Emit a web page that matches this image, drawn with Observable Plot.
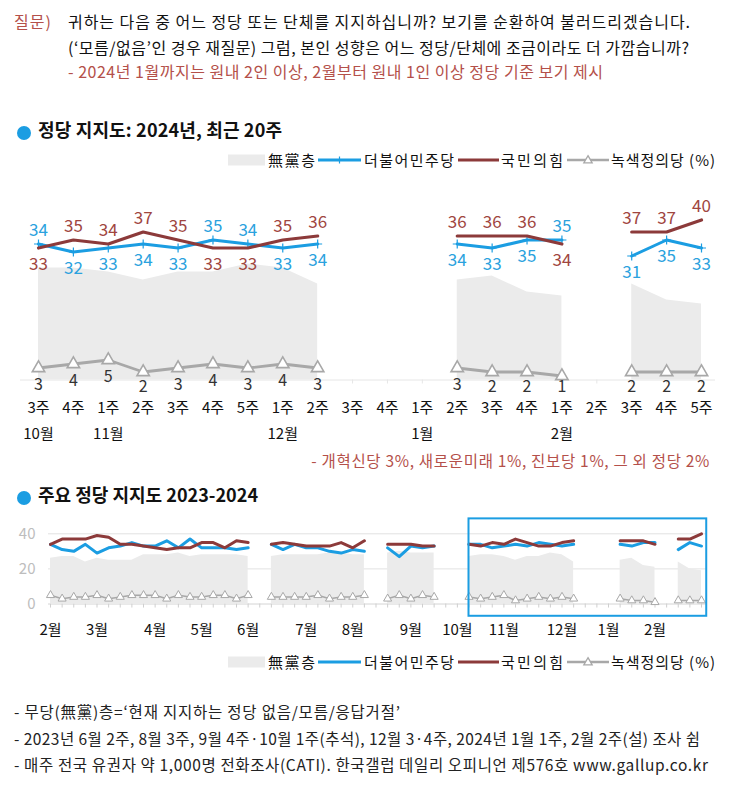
<!DOCTYPE html>
<html><head><meta charset="utf-8">
<script src="https://cdn.jsdelivr.net/npm/d3@7"></script>
<script src="https://cdn.jsdelivr.net/npm/@observablehq/plot@0.6"></script>
<style>
body{margin:0;background:#fff;font-family:"Noto Sans CJK KR","Noto Sans",sans-serif;}
#root{position:relative;width:730px;height:797px;overflow:hidden;background:#fff;}
.abs{position:absolute;white-space:nowrap;line-height:1;color:#111;}
svg{overflow:visible;}
</style></head><body><div id="root"></div>
<script>
// ---------------- DATA ----------------
// Weekly series, 2023년 2월 1주 (index 0) ... 2024년 2월 5주 (index 56); null = 조사 쉼
const demSupport = [34,31,30,34,29,32,33,35,33,33,36,32,37,32,32,32,31,32, null,
  34,31,34,32,32,30,29,31,30, null, 32,27,33,32,33, null,null,
  34,34,32,33,34,33,35,34,33,34, null,null,null, 34,33,35,35, null, 31,35,33];
const pppSupport = [34,37,37,37,39,38,34,34,33,32,31,32,32,35,35,32,36,35, null,
  34,35,34,33,33,33,35,32,36, null, 34,34,34,33,33, null,null,
  34,33,35,34,37,35,33,33,35,36, null,null,null, 36,36,36,34, null, 37,37,40];
const greenSupport = [5,3,4,4,5,3,4,5,5,5,3,5,4,4,5,5,3,5, null,
  4,4,4,4,5,3,4,4,5, null, 3,5,3,5,4, null,null,
  4,3,4,5,2,3,4,3,4,3, null,null,null, 3,2,2,1, null, 2,2,2];
const undecided = [26,27,27,24,26,25,25,25,28,28,28,29,27,28,28,28,28,27, null,
  27,28,28,28,28,29,29,28,28, null, 29,30,29,29,29, null,null,
  27,28,28,27,25,27,27,29,28,24, null,null,null, 25,26,22,21, null, 24,20,19];

// bottom chart month ticks (week index where each month starts)
const monthStartWeek = [0,4,9,13,17,22,26,31,35,39,44,48,52];
const monthNames = ["2월","3월","4월","5월","6월","7월","8월","9월","10월","11월","12월","1월","2월"];
const yTicks = [0,20,40];

// top chart: last 20 weeks
const recentStart = 37;
const topWeekLabels = ["3주","4주","1주","2주","3주","4주","5주","1주","2주","3주","4주","1주","2주","3주","4주","1주","2주","3주","4주","5주"];
const topMonths = ["10월","10월","11월","11월","11월","11월","11월","12월","12월","12월","12월","1월","1월","1월","1월","2월","2월","2월","2월","2월"];

const seriesNames = ["無黨층","더불어민주당","국민의힘","녹색정의당 (%)"];

const questionLabel = "질문)";
const questionLines = ["귀하는 다음 중 어느 정당 또는 단체를 지지하십니까? 보기를 순환하여 불러드리겠습니다.",
  "(‘모름/없음’인 경우 재질문) 그럼, 본인 성향은 어느 정당/단체에 조금이라도 더 가깝습니까?"];
const questionNote = "- 2024년 1월까지는 원내 2인 이상, 2월부터 원내 1인 이상 정당 기준 보기 제시";
const title1 = "정당 지지도: 2024년, 최근 20주";
const title2 = "주요 정당 지지도 2023-2024";
const otherParties = "- 개혁신당 3%, 새로운미래 1%, 진보당 1%, 그 외 정당 2%";
const footnotes = ["- 무당(無黨)층=‘현재 지지하는 정당 없음/모름/응답거절’",
  "- 2023년 6월 2주, 8월 3주, 9월 4주·10월 1주(추석), 12월 3·4주, 2024년 1월 1주, 2월 2주(설) 조사 쉼",
  "- 매주 전국 유권자 약 1,000명 전화조사(CATI). 한국갤럽 데일리 오피니언 제576호 www.gallup.co.kr"];

// ---------------- STYLE ----------------
const BLUE = "#1b9de2", RED = "#8c3a3a", GRAY = "#a8a8a8", AREA = "#ebebeb";
const BLUE_TXT = "#2ba2de", RED_TXT = "#a0463f", NOTE_RED = "#b4504a";
const FONT = '"Noto Sans CJK KR","Noto Sans",sans-serif';
const num = v => v == null ? NaN : v;

const root = document.getElementById("root");
const fitList = [];
function addText(txt, x, cy, o = {}) {
  const el = document.createElement("div");
  el.className = "abs";
  el.textContent = txt;
  const size = o.size || 16;
  el.style.fontSize = size + "px";
  el.style.top = (cy - size * 0.55) + "px";
  if (o.align === "right") el.style.right = (730 - x) + "px"; else el.style.left = x + "px";
  if (o.color) el.style.color = o.color;
  if (o.weight) el.style.fontWeight = o.weight;
  root.appendChild(el);
  if (o.width) fitList.push([el, o.width]);
  return el;
}
function fitAll() {
  for (const [el, w] of fitList) {
    el.style.letterSpacing = "0px";
    const n = Math.max(1, el.textContent.length - 1);
    const cur = el.getBoundingClientRect().width;
    el.style.letterSpacing = ((w - cur) / n) + "px";
  }
}
function addNode(node, x, y) {
  const w = document.createElement("div");
  w.style.position = "absolute"; w.style.left = x + "px"; w.style.top = y + "px";
  w.appendChild(node); root.appendChild(w); return w;
}

// ---------------- HEADER ----------------
addText(questionLabel, 14, 22, {color: NOTE_RED, width: 37});
addText(questionLines[0], 68, 22, {width: 622});
addText(questionLines[1], 68, 48, {width: 621});
addText(questionNote, 68, 72, {color: NOTE_RED, width: 535});

function bullet(cy) {
  const s = d3.create("svg").attr("width", 16).attr("height", 16);
  s.append("circle").attr("cx", 8).attr("cy", 8).attr("r", 7).attr("fill", BLUE);
  addNode(s.node(), 16, cy - 8);
}
bullet(130); addText(title1, 38, 130, {size: 18, weight: 700, width: 244});
bullet(495); addText(title2, 38, 495, {size: 18, weight: 700, width: 220});

// ---------------- LEGENDS ----------------
function legend(cy, markers) {
  const s = d3.create("svg").attr("width", 400).attr("height", 20);
  const g = s.append("g").attr("transform", "translate(0,10)");
  g.append("rect").attr("x", 0).attr("y", -5.5).attr("width", 37).attr("height", 11).attr("fill", AREA);
  g.append("line").attr("x1", 90).attr("x2", 133).attr("stroke", BLUE).attr("stroke-width", 3);
  if (markers) g.append("path").attr("d", "M111.5,-3.5V3.5M108,0H115").attr("stroke", BLUE).attr("stroke-width", 1.2);
  g.append("line").attr("x1", 230).attr("x2", 271).attr("stroke", RED).attr("stroke-width", 3);
  g.append("line").attr("x1", 339).attr("x2", 381).attr("stroke", GRAY).attr("stroke-width", 2.5);
  g.append("path").attr("d", d3.symbol(d3.symbolTriangle, 30)()).attr("transform", "translate(360,0.5)")
    .attr("fill", "white").attr("stroke", GRAY).attr("stroke-width", 1.3);
  addNode(s.node(), 228, cy - 10);
  const xs = [268, 364, 501, 611];
  const ws = [47, 90, 62, 104];
  seriesNames.forEach((n, i) => addText(n, xs[i], cy, {size: 15, width: ws[i]}));
}
legend(160, true);
legend(662, false);

// ---------------- TOP CHART ----------------
const topData = d3.range(20).map(i => {
  const w = recentStart + i;
  return {i, dem: num(demSupport[w]), ppp: num(pppSupport[w]), green: num(greenSupport[w]),
    und: num(undecided[w]), week: topWeekLabels[i], month: topMonths[i],
    monthLabel: (i === 0 || topMonths[i] !== topMonths[i - 1]) ? topMonths[i] : ""};
});
const has = d => !isNaN(d.dem);
const topLabelFont = 17;
const topPlot = Plot.plot({
  width: 730, height: 270, marginLeft: 38, marginRight: 29, marginTop: 39.5, marginBottom: 70.5,
  x: {type: "linear", domain: [0, 19], axis: null},
  y: {domain: [0, 40], axis: null},
  style: {fontFamily: FONT, background: "transparent", overflow: "visible"},
  marks: [
    Plot.ruleY([0], {stroke: "#e6e6e6", insetLeft: -18, insetRight: -14}),
    Plot.ruleX(topData, {x: "i", y1: 0, y2: -1, stroke: "#e6e6e6"}),
    Plot.areaY(topData, {x: "i", y1: 0, y2: "und", fill: AREA}),
    Plot.line(topData, {x: "i", y: "green", stroke: GRAY, strokeWidth: 2.8}),
    Plot.dot(topData, {x: "i", y: "green", symbol: "triangle", r: 4.6, fill: "white", stroke: GRAY, strokeWidth: 1.6}),
    Plot.line(topData, {x: "i", y: "dem", stroke: BLUE, strokeWidth: 3}),
    Plot.dot(topData, {x: "i", y: "dem", symbol: "plus", r: 3, stroke: BLUE, strokeWidth: 1.2}),
    Plot.line(topData, {x: "i", y: "ppp", stroke: RED, strokeWidth: 3.2}),
    Plot.text(topData.filter(d => has(d) && d.dem >= d.ppp), {x: "i", y: "dem", text: "dem", dy: -13, fill: BLUE_TXT, fontSize: topLabelFont, lineAnchor: "middle"}),
    Plot.text(topData.filter(d => has(d) && d.dem < d.ppp), {x: "i", y: "dem", text: "dem", dy: 17, fill: BLUE_TXT, fontSize: topLabelFont, lineAnchor: "middle"}),
    Plot.text(topData.filter(d => has(d) && d.ppp > d.dem), {x: "i", y: "ppp", text: "ppp", dy: -13, fill: RED_TXT, fontSize: topLabelFont, lineAnchor: "middle"}),
    Plot.text(topData.filter(d => has(d) && d.ppp <= d.dem), {x: "i", y: "ppp", text: "ppp", dy: 17, fill: RED_TXT, fontSize: topLabelFont, lineAnchor: "middle"}),
    // green labels sit just under their triangle, but never lower than the label row for value 2.5
    Plot.text(topData.filter(has), {x: "i", y: d => Math.max(d.green, 2.5), text: "green", dy: 17, fill: "#333", fontSize: 16, lineAnchor: "middle"}),
    Plot.text(topData, {x: "i", text: "week", frameAnchor: "bottom", dy: 28.5, fontSize: 15, fill: "#111", lineAnchor: "middle"}),
    Plot.text(topData.filter(d => d.monthLabel), {x: "i", text: "monthLabel", frameAnchor: "bottom", dy: 54, fontSize: 15, fill: "#111", lineAnchor: "middle"})
  ]
});
addNode(topPlot, 0, 180);
addText(otherParties, 710, 462, {color: NOTE_RED, size: 15.5, align: "right", width: 398});

// ---------------- BOTTOM CHART ----------------
const weeks = d3.range(demSupport.length).map(w => ({w, dem: num(demSupport[w]), ppp: num(pppSupport[w]),
  green: num(greenSupport[w]), und: num(undecided[w])}));
const lastWeek = weeks.length - 1;
const months = monthStartWeek.map((w, k) => ({w, label: monthNames[k]}));
const highlight = [{x1: recentStart - 1, x2: lastWeek + 0.45, y1: -7, y2: 48.5}];
const botPlot = Plot.plot({
  width: 730, height: 140, marginLeft: 50, marginRight: 29, marginTop: 23.3, marginBottom: 46.5,
  x: {type: "linear", domain: [0, lastWeek], axis: null},
  y: {domain: [0, 40], axis: null},
  style: {fontFamily: FONT, background: "transparent", overflow: "visible"},
  marks: [
    Plot.ruleY([20, 40], {stroke: "#e2e2e2", insetLeft: -2, insetRight: -5}),
    Plot.ruleY([0], {stroke: "#d4d4d4", insetLeft: -2, insetRight: -5}),
    Plot.ruleX(weeks, {x: "w", y1: 0, y2: -2.3, stroke: "#cfcfcf"}),
    Plot.text(yTicks, {y: d => d, text: d => String(d), frameAnchor: "left", dx: -15, textAnchor: "end", fill: "#bdbdbd", fontSize: 15, lineAnchor: "middle"}),
    Plot.areaY(weeks, {x: "w", y1: 0, y2: "und", fill: AREA}),
    Plot.line(weeks, {x: "w", y: "green", stroke: GRAY, strokeWidth: 1.5}),
    Plot.dot(weeks, {x: "w", y: "green", symbol: "triangle", r: 3, fill: "white", stroke: GRAY, strokeWidth: 1}),
    Plot.line(weeks, {x: "w", y: "dem", stroke: BLUE, strokeWidth: 3}),
    Plot.line(weeks, {x: "w", y: "ppp", stroke: RED, strokeWidth: 3}),
    Plot.rect(highlight, {x1: "x1", x2: "x2", y1: "y1", y2: "y2", fill: "none", stroke: BLUE, strokeWidth: 2}),
    Plot.text(months, {x: "w", text: "label", frameAnchor: "bottom", dy: 26.5, fontSize: 15, fill: "#111", lineAnchor: "middle"})
  ]
});
addNode(botPlot, 0, 510);

// ---------------- FOOTNOTES ----------------
addText(footnotes[0], 14, 713, {size: 15.5, color: "#222", width: 386});
addText(footnotes[1], 14, 740, {size: 15.5, color: "#222", width: 686});
addText(footnotes[2], 14, 766, {size: 15.5, color: "#222", width: 694});

fitAll();
if (document.fonts && document.fonts.ready) document.fonts.ready.then(fitAll);
</script></body></html>
